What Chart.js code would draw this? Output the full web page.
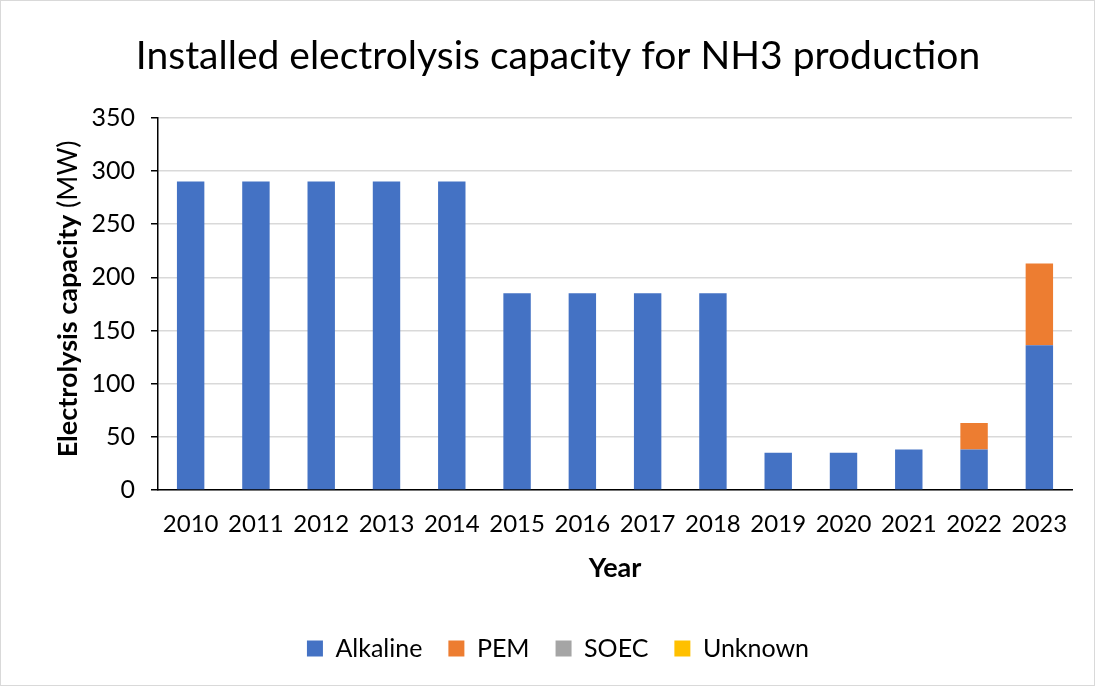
<!DOCTYPE html>
<html>
<head>
<meta charset="utf-8">
<script src="https://cdn.jsdelivr.net/npm/chart.js@4"></script>
<style>
  html, body { margin: 0; padding: 0; background: #fff; }
  #wrap { position: relative; width: 1093px; height: 684px; border: 1px solid #d9d9d9; }
</style>
</head>
<body>
<div id="wrap"><canvas id="nh3-chart" width="1093" height="684"></canvas></div>
<script>
var years = ['2010', '2011', '2012', '2013', '2014', '2015', '2016', '2017', '2018', '2019', '2020', '2021', '2022', '2023'];
var alkaline = [290, 290, 290, 290, 290, 185, 185, 185, 185, 35, 35, 38, 38, 136];
var pem = [0, 0, 0, 0, 0, 0, 0, 0, 0, 0, 0, 0, 25, 77];
var soec = [0, 0, 0, 0, 0, 0, 0, 0, 0, 0, 0, 0, 0, 0];
var unknown = [0, 0, 0, 0, 0, 0, 0, 0, 0, 0, 0, 0, 0, 0];

var fontFamily = 'Lato, "Open Sans", sans-serif';

// y axis title with bold + regular parts, drawn rotated
var yTitlePlugin = {
    id: 'yTitle',
    afterDraw: function (chart) {
        var ctx = chart.ctx;
        var area = chart.chartArea;
        var boldPart = 'Electrolysis capacity';
        var normalPart = ' (MW)';
        ctx.save();
        ctx.font = 'bold 27px ' + fontFamily;
        var w1 = ctx.measureText(boldPart).width;
        ctx.font = '27px ' + fontFamily;
        var w2 = ctx.measureText(normalPart).width;
        var total = w1 + w2;
        ctx.translate(67, (area.top + area.bottom) / 2 - 5);
        ctx.rotate(-Math.PI / 2);
        ctx.fillStyle = '#000';
        ctx.textBaseline = 'middle';
        ctx.textAlign = 'left';
        ctx.font = 'bold 27px ' + fontFamily;
        ctx.fillText(boldPart, -total / 2, 0);
        ctx.font = '27px ' + fontFamily;
        ctx.fillText(normalPart, -total / 2 + w1, 0);
        ctx.restore();
    }
};

new Chart(document.getElementById('nh3-chart'), {
    type: 'bar',
    data: {
        labels: years,
        datasets: [
            { label: 'Alkaline', data: alkaline, backgroundColor: '#4472C4' },
            { label: 'PEM', data: pem, backgroundColor: '#ED7D31' },
            { label: 'SOEC', data: soec, backgroundColor: '#A5A5A5' },
            { label: 'Unknown', data: unknown, backgroundColor: '#FFC000' }
        ]
    },
    options: {
        responsive: false,
        animation: false,
        layout: { padding: { left: 43, right: 22, top: 0, bottom: 14 } },
        datasets: {
            bar: { barPercentage: 0.42, categoryPercentage: 1 }
        },
        plugins: {
            title: {
                display: true,
                text: 'Installed electrolysis capacity for NH3 production',
                color: '#000',
                font: { family: fontFamily, size: 39, weight: 'normal' },
                padding: { top: 32, bottom: 38 }
            },
            legend: {
                position: 'bottom',
                labels: {
                    color: '#000',
                    boxWidth: 16,
                    boxHeight: 16,
                    padding: 26,
                    font: { family: fontFamily, size: 25 }
                }
            },
            tooltip: { enabled: false }
        },
        scales: {
            x: {
                stacked: true,
                afterFit: function (scale) { scale.height = 120; },
                grid: { display: false, drawTicks: false },
                border: { color: '#000', width: 1.5 },
                ticks: { color: '#000', padding: 20, font: { family: fontFamily, size: 24 }, maxRotation: 0 },
                title: {
                    display: true,
                    text: 'Year',
                    color: '#000',
                    font: { family: fontFamily, size: 27, weight: 'bold' },
                    padding: { top: 0, bottom: 26 }
                }
            },
            y: {
                stacked: true,
                min: 0,
                max: 350,
                afterFit: function (scale) { scale.width = 114; },
                grid: { color: '#d9d9d9', lineWidth: 1.5, tickColor: '#000', tickLength: 7 },
                border: { color: '#000', width: 1.5 },
                ticks: { stepSize: 50, color: '#000', padding: 16, font: { family: fontFamily, size: 25 } }
            }
        }
    },
    plugins: [yTitlePlugin]
});
</script>
</body>
</html>
